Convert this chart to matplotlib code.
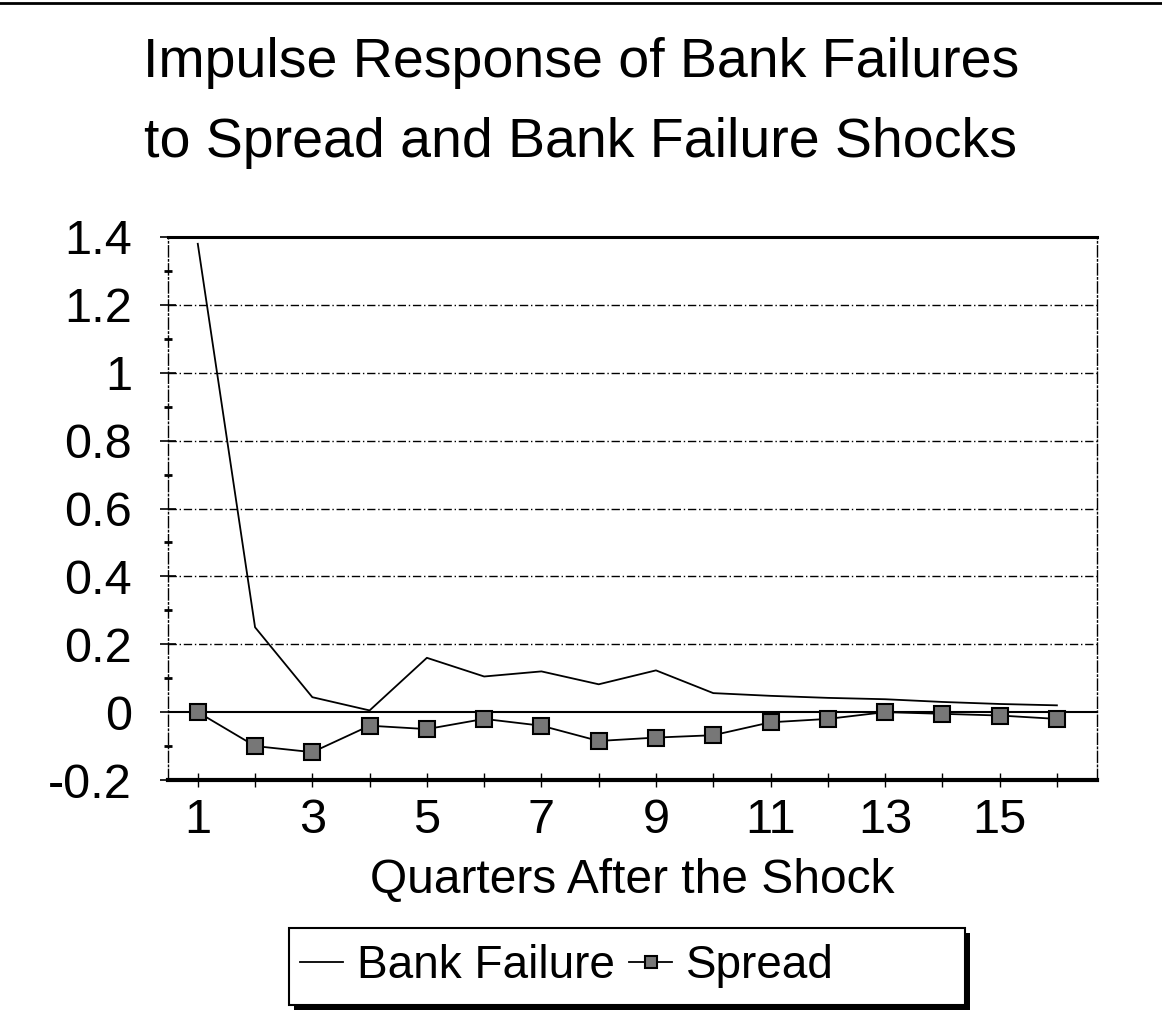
import matplotlib
matplotlib.use("Agg")
import matplotlib.pyplot as plt
from matplotlib.lines import Line2D
from matplotlib.patches import Rectangle
from matplotlib.ticker import MultipleLocator

plt.rcParams['font.family'] = ['Liberation Sans', 'DejaVu Sans']

quarters = list(range(1, 17))
bank_failure = [1.38, 0.25, 0.044, 0.005, 0.16, 0.105, 0.12, 0.082, 0.123, 0.056,
                0.048, 0.042, 0.038, 0.03, 0.024, 0.02]
spread = [0.0, -0.10, -0.118, -0.04, -0.05, -0.02, -0.04, -0.085, -0.075, -0.068,
          -0.03, -0.02, 0.0, -0.005, -0.01, -0.02]
yticks = [-0.2, 0, 0.2, 0.4, 0.6, 0.8, 1, 1.2, 1.4]
ytick_labels = ["-0.2", "0", "0.2", "0.4", "0.6", "0.8", "1", "1.2", "1.4"]
xticks = [1, 3, 5, 7, 9, 11, 13, 15]
title_lines = ["Impulse Response of Bank Failures", "to Spread and Bank Failure Shocks"]
xlabel = "Quarters After the Shock"

W, H = 1162, 1021
fig = plt.figure(figsize=(W / 100, H / 100), dpi=100)
ax = fig.add_axes([168 / W, 1 - 780 / H, (1097 - 168) / W, (780 - 237) / H])

for y in yticks[2:-1]:
    ax.axhline(y, color='black', lw=1.0, ls=(0, (6, 2, 1, 2)), zorder=1)
ax.axhline(0, color='black', lw=1.5, zorder=2)

ax.plot(quarters, bank_failure, color='black', lw=1.3, zorder=3, label='Bank Failure')
ax.plot(quarters, spread, color='black', lw=1.3, marker='s', markersize=11,
        markerfacecolor='#777777', markeredgecolor='black', markeredgewidth=1.5,
        zorder=4, label='Spread')

ax.set_xlim(0.48, 16.7)
ax.set_ylim(-0.2, 1.4)
ax.set_yticks(yticks)
ax.set_yticklabels(ytick_labels)
ax.yaxis.set_minor_locator(MultipleLocator(0.1))
ax.set_xticks(xticks)
ax.xaxis.set_minor_locator(MultipleLocator(1))
ax.tick_params(axis='y', which='major', labelsize=35, direction='inout', length=12,
               width=1.2, pad=20)
ax.tick_params(axis='y', which='minor', direction='inout', length=6, width=2)
ax.tick_params(axis='x', which='major', labelsize=35, direction='inout', length=10,
               width=1.0, pad=8)
ax.tick_params(axis='x', which='minor', direction='inout', length=10, width=1.0)
ax.set_xlabel(xlabel, fontsize=34.5, labelpad=11)

for s in ['left', 'right']:
    ax.spines[s].set_linestyle((0, (8, 2, 1, 2)))
    ax.spines[s].set_linewidth(1.0)
ax.spines['top'].set_linewidth(2.2)
ax.spines['bottom'].set_linewidth(3)

fig.text(0.5, 1 - 77 / H, title_lines[0], ha='center', va='baseline', fontsize=40)
fig.text(0.5, 1 - 157 / H, title_lines[1], ha='center', va='baseline', fontsize=40)

fig.add_artist(Line2D([0, 1], [0.997, 0.997], color='black', lw=2, transform=fig.transFigure))

# legend box with shadow
bx0, bx1, by0, by1 = 289, 965, 928, 1005
fig.add_artist(Rectangle(((bx0 + 5) / W, 1 - (by1 + 5) / H), (bx1 - bx0) / W, (by1 - by0) / H,
                         transform=fig.transFigure, facecolor='black', edgecolor='none', zorder=5))
fig.add_artist(Rectangle((bx0 / W, 1 - by1 / H), (bx1 - bx0) / W, (by1 - by0) / H,
                         transform=fig.transFigure, facecolor='white', edgecolor='black',
                         lw=1.5, zorder=6))
leg = fig.legend(loc='center left', bbox_to_anchor=(277 / W, 1 - 966 / H),
                 ncol=2, fontsize=33, frameon=False, handlelength=0.95, handletextpad=0.3,
                 columnspacing=0.3, borderpad=0.0, markerscale=0.75)
leg.set_zorder(7)

fig.savefig("out.png", dpi=100, facecolor='white')
